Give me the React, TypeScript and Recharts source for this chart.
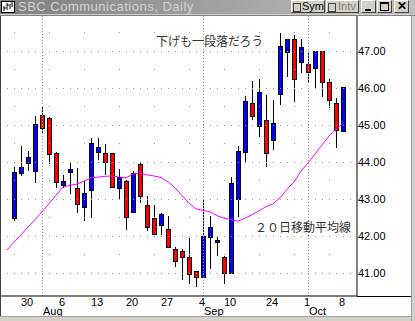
import { ComposedChart, Bar, Line, XAxis, YAxis, ReferenceLine } from "recharts";

// SBC Communications daily, 2001-07-25 .. 2001-10-08 (market closed 9/11-9/14)
const dates = [
  "7/25", "7/26", "7/27", "7/30", "7/31",
  "8/1", "8/2", "8/3", "8/6", "8/7", "8/8", "8/9", "8/10", "8/13", "8/14", "8/15", "8/16", "8/17",
  "8/20", "8/21", "8/22", "8/23", "8/24", "8/27", "8/28", "8/29", "8/30", "8/31",
  "9/4", "9/5", "9/6", "9/7", "9/10", "9/17", "9/18", "9/19", "9/20", "9/21",
  "9/24", "9/25", "9/26", "9/27", "9/28",
  "10/1", "10/2", "10/3", "10/4", "10/5", "10/8",
];

const opens = [
  null, 42.49, 43.71, 43.98, 43.76, 45.28, 45.2, 44.25, 43.39, 43.74, 43.31, 42.79, 43.25, 44.28, 44.25, 44.25,
  43.31, 43.49, 42.66, 43.95, 42.85, 42.49, 42.31, 42.2, 41.66, 41.6, 41.44, 41.06, 40.9, 41.98, 41.85, 41.44,
  41.01, 43.01, 44.28, 45.6, 44.98, 45.14, 44.6, 45.85, 46.98, 47.33, 46.71, 46.66, 46.55, 47.01, 46.17, 45.6, 44.85,
];
const highs = [
  null, 43.87, 44.44, 44.31, 45.25, 45.49, 45.22, 44.28, 43.66, 44.01, 43.85, 43.49, 44.66, 44.66, 44.49, 44.26,
  43.82, 43.52, 43.76, 43.98, 43.09, 42.85, 42.63, 42.55, 41.71, 41.66, 41.95, 41.07, 43.01, 42.55, 42.01, 41.47,
  43.6, 44.44, 45.79, 46.2, 46.25, 45.82, 45.68, 47.49, 47.33, 47.44, 47.33, 46.98, 47.01, 47.01, 46.25, 45.74, 46.04,
];
const lows = [
  null, 42.41, 43.63, 43.76, 43.44, 44.76, 43.95, 43.31, 43.31, 43.14, 42.63, 42.41, 42.49, 44.06, 43.66, 43.3,
  42.98, 42.17, 42.64, 42.9, 42.14, 42.04, 42.04, 41.7, 41.17, 40.82, 40.71, 40.63, 40.88, 41.12, 41.47, 40.71,
  41.0, 42.52, 43.98, 45.14, 44.68, 43.87, 44.33, 45.55, 46.31, 45.63, 46.41, 46.14, 46.01, 45.76, 45.47, 44.39, 44.85,
];
const closes = [
  null, 43.74, 43.87, 44.14, 45.04, 44.93, 44.22, 43.47, 43.49, 43.82, 42.87, 43.17, 44.52, 44.41, 44.01, 43.33,
  43.6, 42.52, 43.71, 43.09, 42.25, 42.06, 42.6, 41.71, 41.33, 41.44, 40.98, 40.9, 42.01, 42.25, 41.9, 41.01,
  43.44, 44.31, 45.66, 45.25, 45.9, 44.25, 45.06, 47.14, 47.33, 46.25, 47.12, 46.44, 47.01, 46.17, 45.68, 44.87, 46.04,
];
// 20 day moving average
const ma20 = [
  41.63, 41.84, 42.04, 42.25, 42.45, 42.66, 42.88, 43.11, 43.33, 43.38, 43.41, 43.49, 43.58, 43.6, 43.62, 43.63,
  43.6, 43.58, 43.68, 43.71, 43.66, 43.63, 43.59, 43.47, 43.31, 43.1, 42.89, 42.74, 42.7, 42.66, 42.56, 42.49,
  42.45, 42.41, 42.49, 42.58, 42.69, 42.8, 42.88, 43.04, 43.27, 43.47, 43.76, 43.98, 44.22, 44.47, 44.71, 44.89, 45.06,
];

const dayLabels: Record<string, string> = {
  "7/30": "30", "8/6": "6", "8/13": "13", "8/20": "20", "8/27": "27",
  "9/4": "4", "9/10": "10", "9/24": "24", "10/1": "1", "10/8": "8",
};
const monthLabels: Record<string, string> = { "8/1": "Aug", "9/4": "Sep", "10/1": "Oct" };
const priceTicks = [41, 42, 43, 44, 45, 46, 47];
const gridLevels = [41, 41.5, 42, 42.5, 43, 43.5, 44, 44.5, 45, 45.5, 46, 46.5, 47, 47.5];

const rows = dates.map((date, i) => ({
  date,
  open: opens[i],
  high: highs[i],
  low: lows[i],
  close: closes[i],
  ma: ma20[i],
}));

const FONT = "'Liberation Sans', Arial, sans-serif";

function Candle(props: any) {
  const { x, y, width, height, payload } = props;
  if (!payload || payload.high == null) return <g />;
  const top = Math.min(y, y + height);
  const bottom = Math.max(y, y + height);
  const span = payload.high - payload.low || 1;
  const py = (v: number) => top + ((payload.high - v) / span) * (bottom - top);
  const cx = Math.round(x + width / 2) + 0.5;
  const up = payload.close >= payload.open;
  const bTop = Math.round(py(Math.max(payload.open, payload.close))) + 0.5;
  const bBot = Math.round(py(Math.min(payload.open, payload.close))) + 0.5;
  return (
    <g shapeRendering="crispEdges">
      <line x1={cx} x2={cx} y1={Math.round(top)} y2={Math.round(bottom)} stroke="#000" strokeWidth={1} />
      <rect
        x={cx - 2}
        y={bTop}
        width={4}
        height={Math.max(bBot - bTop, 1)}
        fill={up ? "#0000ff" : "#ff0000"}
        stroke="#000"
        strokeWidth={1}
      />
    </g>
  );
}

function DateTick(props: any) {
  const { x, y, payload } = props;
  const d = dayLabels[payload.value];
  const m = monthLabels[payload.value];
  return (
    <g fontFamily={FONT} fill="#000">
      {d && (
        <text x={x - 1} y={y + 10} textAnchor="middle" fontSize={11}>
          {d}
        </text>
      )}
      {m && (
        <text x={x + 1} y={y + 18.5} textAnchor="start" fontSize={11}>
          {m}
        </text>
      )}
    </g>
  );
}

function TitleBar() {
  const btn = {
    position: "absolute" as const,
    top: 0,
    height: 13,
    background: "#d4d0c8",
    borderTop: "1px solid #fff",
    borderLeft: "1px solid #fff",
    borderRight: "1px solid #404040",
    borderBottom: "1px solid #404040",
    boxSizing: "border-box" as const,
    fontFamily: FONT,
    fontSize: 11,
    lineHeight: "11px",
  };
  const box = {
    position: "absolute" as const,
    left: 1,
    top: 2,
    width: 6,
    height: 7,
    border: "1px solid #404040",
    background: "#d4d0c8",
  };
  return (
    <div style={{ position: "absolute", left: 0, top: 0, width: 415, height: 16 }}>
      <div
        style={{
          position: "absolute",
          left: 0,
          top: 0,
          width: 415,
          height: 14,
          background: "linear-gradient(to right, #808080, #c0c0c0)",
        }}
      />
      <svg width={16} height={14} style={{ position: "absolute", left: 0, top: 0 }}>
        <rect x={1.5} y={1.5} width={13} height={11} fill="#fff" stroke="#000" />
        <path d="M4 11V6M4 8H6M7 10V3M7 5H9M10 9V4M12 7V2" stroke="#000" strokeWidth={1} />
      </svg>
      <div
        style={{
          position: "absolute",
          left: 18,
          top: 0,
          fontFamily: FONT,
          fontSize: 13,
          letterSpacing: 0.5,
          lineHeight: "14px",
          color: "#d4d0c8",
          whiteSpace: "nowrap",
        }}
      >
        SBC Communications, Daily
      </div>
      <div style={{ ...btn, left: 291, width: 34 }}>
        <span style={box} />
        <span style={{ position: "absolute", left: 10, top: 0 }}>Sym</span>
      </div>
      <div style={{ ...btn, left: 326, width: 33, color: "#808080" }}>
        <span style={box} />
        <span style={{ position: "absolute", left: 11, top: 0 }}>Intv</span>
      </div>
      <div style={{ ...btn, left: 361, width: 15 }}>
        <span style={{ position: "absolute", left: 3, top: 8, width: 6, height: 2, background: "#000" }} />
      </div>
      <div style={{ ...btn, left: 377, width: 15 }}>
        <span
          style={{
            position: "absolute",
            left: 2,
            top: 1,
            width: 7,
            height: 6,
            border: "1px solid #000",
            borderTop: "2px solid #000",
          }}
        />
      </div>
      <div style={{ ...btn, left: 394, width: 15, fontSize: 12, fontWeight: "bold", textAlign: "center" }}>
        <span style={{ position: "relative", top: 0 }}>✕</span>
      </div>
      <div style={{ position: "absolute", left: 0, top: 14, width: 415, height: 1, background: "#d4d0c8" }} />
      <div style={{ position: "absolute", left: 0, top: 15, width: 415, height: 1, background: "#808080" }} />
    </div>
  );
}

export default function App() {
  return (
    <div
      style={{
        position: "absolute",
        left: 0,
        top: 0,
        width: 415,
        height: 321,
        overflow: "hidden",
        background: "#fff",
      }}
    >
      <ComposedChart width={415} height={321} data={rows} margin={{ top: 16, left: 1, right: 4, bottom: 5 }}>
        {gridLevels.map((v) => (
          <ReferenceLine
            key={v}
            y={v}
            stroke="#9a9a9a"
            strokeDasharray={Number.isInteger(v) ? "1 6" : "1 34"}
            strokeDashoffset={Number.isInteger(v) ? 1 : 8}
            shapeRendering="crispEdges"
          />
        ))}
        {Object.keys(monthLabels).map((d) => (
          <ReferenceLine key={d} x={d} stroke="#9a9a9a" strokeDasharray="1 2" shapeRendering="crispEdges" />
        ))}
        <XAxis
          dataKey="date"
          height={20}
          interval={0}
          padding={{ left: 2.5, right: 10.5 }}
          axisLine={{ stroke: "#000" }}
          tickLine={false}
          tickSize={0}
          tickMargin={0}
          tick={<DateTick />}
        />
        <YAxis
          orientation="right"
          width={54}
          domain={[40.386, 47.954]}
          allowDataOverflow
          ticks={priceTicks}
          tickFormatter={(v: number) => v.toFixed(2)}
          axisLine={{ stroke: "#000" }}
          tickLine={false}
          tickSize={0}
          tickMargin={1}
          tick={{ fill: "#000", fontSize: 11, fontFamily: FONT }}
        />
        <Line
          dataKey="ma"
          type="linear"
          stroke="#ff00ff"
          strokeWidth={1}
          dot={false}
          isAnimationActive={false}
        />
        <Bar
          dataKey={(d: any) => (d.high == null ? null : [d.low, d.high])}
          barSize={5}
          shape={<Candle />}
          isAnimationActive={false}
        />
      </ComposedChart>
      <TitleBar />
      <div style={{ position: "absolute", left: 357, top: 296, width: 54, height: 1, background: "#000" }} />
      <div style={{ position: "absolute", left: 0, top: 16, width: 1, height: 300, background: "#404040" }} />
      <div style={{ position: "absolute", left: 0, top: 316, width: 415, height: 5, background: "#d4d0c8", borderTop: "1px solid #a0a0a0", boxSizing: "border-box" }} />
      <div style={{ position: "absolute", left: 411, top: 16, width: 4, height: 305, background: "#d4d0c8", borderLeft: "1px solid #a0a0a0", boxSizing: "border-box" }} />
      <div
        style={{
          position: "absolute",
          left: 156,
          top: 34,
          fontFamily: "'Noto Sans CJK JP', sans-serif",
          fontSize: 12,
          lineHeight: "14px",
          color: "#333",
          whiteSpace: "nowrap",
        }}
      >
        下げも一段落だろう
      </div>
      <div
        style={{
          position: "absolute",
          left: 255,
          top: 220,
          fontFamily: "'Noto Sans CJK JP', sans-serif",
          fontSize: 12,
          lineHeight: "14px",
          color: "#333",
          whiteSpace: "nowrap",
        }}
      >
        ２０日移動平均線
      </div>
    </div>
  );
}
